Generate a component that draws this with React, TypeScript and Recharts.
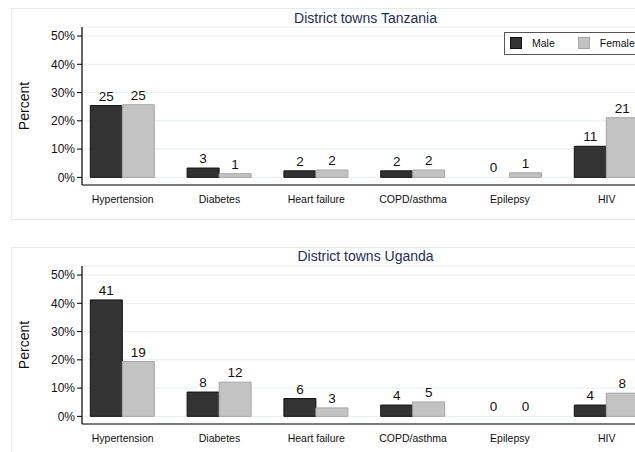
import React from 'react';
import { BarChart, Bar, XAxis, YAxis, CartesianGrid, LabelList, Cell } from 'recharts';

const categories = ['Hypertension', 'Diabetes', 'Heart failure', 'COPD/asthma', 'Epilepsy', 'HIV'];
const tanzaniaMale = [25.4, 3.3, 2.3, 2.3, 0, 11.0];
const tanzaniaFemale = [25.7, 1.3, 2.6, 2.6, 1.6, 21.1];
const ugandaMale = [41.2, 8.6, 6.3, 4.0, 0, 4.0];
const ugandaFemale = [19.4, 12.1, 3.0, 5.1, 0, 8.2];
const yTicks = [0, 10, 20, 30, 40, 50];
const seriesNames = ['Male', 'Female'];
const panelTitles = ['District towns Tanzania', 'District towns Uganda'];

const FONT = '"Liberation Sans", Arial, Helvetica, sans-serif';
const MALE_FILL = '#333333';
const MALE_STROKE = '#111111';
const FEMALE_FILL = '#c3c3c3';
const FEMALE_STROKE = '#a6a6a6';
const GRID = '#e6eef0';
const TITLE = '#1f2d57';

const fmt = (v: any) => String(Math.floor(Number(v) + 1e-9));

function Panel({ title, male, female, top, legend }: { title: string; male: number[]; female: number[]; top: number; legend: boolean }) {
  const data = categories.map((name, i) => ({ name, male: male[i], female: female[i] }));
  return (
    <>
      <div
        style={{
          position: 'absolute', left: 10.5, top, width: 740, height: 212,
          border: '1px solid #e2eaec', boxSizing: 'border-box',
        }}
      />
      <div
        style={{
          position: 'absolute', left: 82, top: top + 1.5, width: 567, textAlign: 'center',
          fontSize: 14, lineHeight: '16px', color: TITLE, whiteSpace: 'nowrap',
        }}
      >
        {title}
      </div>
      <div
        style={{
          position: 'absolute', left: 24, top: top + 98, transform: 'translate(-50%, -50%) rotate(-90deg)',
          fontSize: 14, lineHeight: '16px', color: '#111', whiteSpace: 'nowrap',
        }}
      >
        Percent
      </div>
      <div style={{ position: 'absolute', left: 10, top }}>
        <BarChart
          width={740}
          height={212}
          data={data}
          margin={{ top: 19, right: 101, bottom: 5, left: 0 }}
          barGap={0}
          barSize={32}
        >
          <CartesianGrid vertical={false} stroke={GRID} strokeWidth={1} />
          <XAxis
            dataKey="name"
            interval={0}
            tickLine={false}
            axisLine={{ stroke: '#000', strokeWidth: 1.2 }}
            tick={{ fontSize: 10.5, fill: '#111' }}
            tickMargin={5}
            height={30}
            padding={{ left: -7.7, right: -6.1 }}
          />
          <YAxis
            type="number"
            domain={[-2.7, 53.2]}
            allowDataOverflow
            ticks={yTicks}
            tickFormatter={(v: number) => `${v}%`}
            tick={{ fontSize: 12, fill: '#111' }}
            tickSize={5}
            tickLine={{ stroke: '#000' }}
            axisLine={{ stroke: '#000', strokeWidth: 1.2 }}
            width={72}
          />
          <Bar dataKey="male" name={seriesNames[0]} fill={MALE_FILL} stroke={MALE_STROKE} strokeWidth={1} minPointSize={0.001} isAnimationActive={false}>
            {data.map((d, i) => (
              <Cell key={i} stroke={d.male === 0 ? 'none' : MALE_STROKE} />
            ))}
            <LabelList dataKey="male" position="top" offset={5} formatter={fmt} style={{ fontSize: 13.5, fill: '#111' }} />
          </Bar>
          <Bar dataKey="female" name={seriesNames[1]} fill={FEMALE_FILL} stroke={FEMALE_STROKE} strokeWidth={1} minPointSize={0.001} isAnimationActive={false}>
            {data.map((d, i) => (
              <Cell key={i} stroke={d.female === 0 ? 'none' : FEMALE_STROKE} />
            ))}
            <LabelList dataKey="female" position="top" offset={5} formatter={fmt} style={{ fontSize: 13.5, fill: '#111' }} />
          </Bar>
        </BarChart>
      </div>
      {legend && (
        <div
          style={{
            position: 'absolute', left: 504, top: 31.5, width: 146, height: 23,
            border: '1px solid #555', boxSizing: 'border-box', background: '#fff',
            display: 'flex', alignItems: 'center', paddingLeft: 5, fontSize: 10.5, color: '#111',
          }}
        >
          <span style={{ width: 12, height: 12, boxSizing: 'border-box', background: MALE_FILL, border: `1px solid ${MALE_STROKE}`, marginRight: 10 }} />
          <span style={{ marginRight: 23 }}>{seriesNames[0]}</span>
          <span style={{ width: 12, height: 12, boxSizing: 'border-box', background: FEMALE_FILL, border: `1px solid ${FEMALE_STROKE}`, marginRight: 10 }} />
          <span>{seriesNames[1]}</span>
        </div>
      )}
    </>
  );
}

export default function App() {
  return (
    <div
      style={{
        position: 'fixed', left: 0, top: 0, width: 635, height: 452, overflow: 'hidden',
        background: '#fff', fontFamily: FONT,
      }}
    >
      <Panel title={panelTitles[0]} male={tanzaniaMale} female={tanzaniaFemale} top={8} legend />
      <Panel title={panelTitles[1]} male={ugandaMale} female={ugandaFemale} top={246.5} legend={false} />
    </div>
  );
}
